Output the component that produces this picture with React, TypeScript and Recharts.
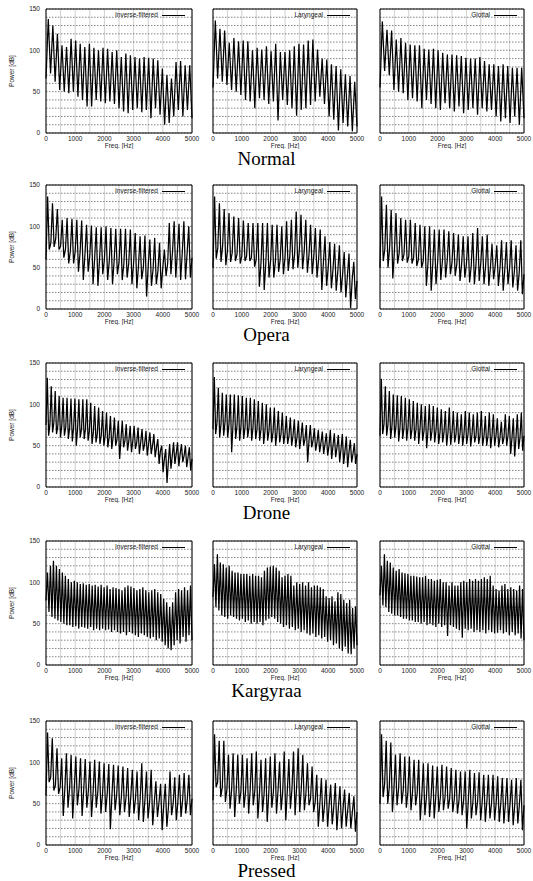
import React from 'react';
import {
  LineChart,
  Line,
  CartesianGrid,
  XAxis,
  YAxis,
  ReferenceArea,
} from 'recharts';

// spectra are stored as: level at 0 Hz, then per harmonic a peak, the dip after it
// and (for the noisier voices) the floor level before the next harmonic
const rowTitles = ['Normal', 'Opera', 'Drone', 'Kargyraa', 'Pressed'];
const panelNames = ['Inverse-filtered', 'Laryngeal', 'Glottal'];

const xTicks = [0, 500, 1000, 1500, 2000, 2500, 3000, 3500, 4000, 4500, 5000];
const yTicks = [0, 10, 20, 30, 40, 50, 60, 70, 80, 90, 100, 110, 120, 130, 140, 150];

// Normal
const normalStarts = [66, 55, 55];
const normalInvPeaks = [138, 130, 120, 106, 104, 114, 112, 108, 104, 108, 103, 100, 103, 102, 98, 100, 92, 96, 94, 92, 90, 92, 91, 90, 88, 78, 70, 66, 86, 87, 82, 82];
const normalInvDips = [72, 62, 52, 50, 48, 50, 44, 40, 32, 32, 40, 38, 36, 38, 35, 30, 26, 24, 28, 30, 25, 28, 18, 30, 22, 10, 12, 20, 28, 20, 28, 18];
const normalLarPeaks = [136, 126, 124, 109, 115, 111, 112, 111, 100, 103, 101, 105, 99, 108, 98, 98, 100, 105, 108, 107, 112, 113, 101, 90, 89, 83, 81, 77, 71, 69, 62];
const normalLarDips = [66, 62, 58, 52, 50, 46, 40, 38, 30, 42, 40, 35, 38, 15, 40, 34, 30, 21, 28, 30, 34, 38, 44, 35, 20, 16, 3, 12, 8, 2, 8];
const normalGloPeaks = [135, 125, 124, 113, 115, 109, 107, 106, 106, 102, 101, 102, 100, 97, 95, 95, 94, 93, 91, 90, 90, 92, 87, 83, 83, 81, 83, 81, 79, 79, 79];
const normalGloDips = [75, 70, 52, 50, 48, 40, 42, 38, 30, 40, 35, 30, 28, 36, 30, 26, 32, 24, 28, 30, 22, 30, 26, 28, 20, 14, 18, 12, 20, 10, 18];

// Opera
const operaStarts = [60, 50, 50];
const operaInvPeaks = [136, 128, 121, 108, 110, 109, 108, 107, 102, 101, 99, 99, 100, 98, 97, 97, 97, 96, 92, 88, 89, 84, 86, 80, 72, 104, 106, 103, 106, 100];
const operaInvDips = [72, 75, 72, 62, 55, 55, 45, 35, 45, 30, 28, 42, 35, 30, 42, 35, 38, 30, 25, 36, 15, 28, 30, 25, 40, 42, 38, 35, 36, 38];
const operaInvFloors = [80, 85, 76, 72, 70, 70, 68, 66, 65, 62, 60, 60, 58, 58, 56, 55, 55, 56, 52, 50, 52, 48, 46, 50, 55, 70, 70, 68, 68, 62];
const operaLarPeaks = [136, 128, 121, 116, 112, 110, 107, 104, 104, 104, 104, 104, 102, 102, 100, 106, 108, 118, 114, 108, 102, 98, 96, 88, 81, 79, 77, 69, 67, 57];
const operaLarDips = [61, 57, 53, 57, 58, 55, 58, 58, 51, 27, 23, 38, 38, 45, 42, 46, 48, 50, 48, 44, 42, 38, 23, 28, 25, 22, 20, 14, 1, 12];
const operaLarFloors = [74, 76, 70, 68, 66, 64, 64, 62, 60, 56, 55, 58, 58, 60, 62, 64, 66, 72, 70, 66, 64, 60, 56, 50, 48, 45, 42, 40, 36, 34];
const operaGloPeaks = [136, 126, 120, 116, 110, 108, 108, 104, 102, 100, 100, 96, 96, 96, 94, 92, 90, 88, 88, 92, 98, 88, 90, 79, 77, 83, 81, 83, 77, 83];
const operaGloDips = [58, 50, 37, 55, 58, 56, 55, 52, 50, 28, 22, 30, 35, 38, 42, 40, 34, 38, 32, 30, 34, 30, 28, 36, 28, 22, 30, 26, 22, 18];
const operaGloFloors = [72, 74, 70, 68, 66, 64, 62, 60, 58, 56, 55, 56, 58, 58, 56, 54, 54, 54, 52, 54, 56, 52, 50, 52, 50, 48, 50, 46, 44, 42];

// Drone
const droneStarts = [75, 70, 62];
const droneInvPeaks = [132, 122, 116, 110, 108, 108, 107, 107, 106, 106, 106, 102, 98, 96, 92, 90, 86, 84, 80, 80, 76, 74, 74, 72, 70, 68, 66, 64, 58, 50, 46, 52, 54, 54, 52, 50, 48];
const droneInvDips = [62, 66, 64, 60, 62, 58, 55, 50, 60, 58, 56, 52, 54, 52, 50, 48, 46, 50, 34, 48, 44, 42, 46, 40, 44, 38, 40, 36, 28, 18, 5, 22, 28, 25, 30, 24, 20];
const droneInvFloors = [76, 78, 74, 74, 72, 72, 72, 70, 70, 70, 68, 66, 64, 62, 62, 60, 60, 58, 58, 56, 56, 56, 54, 54, 52, 52, 50, 48, 44, 34, 30, 38, 40, 40, 38, 36, 34];
const droneLarPeaks = [133, 120, 114, 112, 112, 112, 111, 110, 108, 108, 106, 104, 102, 100, 96, 96, 92, 90, 86, 84, 82, 80, 78, 75, 75, 71, 69, 67, 65, 69, 65, 63, 64, 61, 57, 53];
const droneLarDips = [64, 60, 62, 60, 42, 58, 56, 58, 60, 56, 58, 56, 52, 56, 54, 50, 54, 52, 52, 50, 48, 46, 50, 30, 48, 44, 42, 40, 38, 34, 36, 30, 28, 24, 30, 28];
const droneLarFloors = [78, 76, 78, 76, 76, 74, 74, 72, 72, 72, 70, 70, 68, 68, 66, 66, 64, 64, 62, 62, 60, 60, 58, 56, 56, 54, 54, 52, 50, 50, 48, 46, 44, 42, 40, 40];
const droneGloPeaks = [131, 122, 116, 112, 111, 110, 108, 106, 104, 102, 100, 98, 100, 98, 96, 94, 92, 96, 92, 90, 88, 92, 90, 88, 90, 92, 86, 90, 88, 83, 79, 88, 86, 83, 88, 90];
const droneGloDips = [64, 62, 58, 60, 55, 58, 56, 58, 56, 52, 56, 47, 56, 54, 52, 54, 50, 51, 54, 52, 50, 52, 49, 54, 52, 50, 50, 47, 50, 48, 52, 50, 40, 37, 46, 44];
const droneGloFloors = [76, 76, 74, 74, 72, 72, 72, 70, 70, 70, 68, 68, 68, 68, 66, 66, 66, 66, 64, 64, 64, 64, 64, 62, 62, 62, 62, 62, 62, 60, 60, 62, 60, 60, 60, 62];

// Kargyraa
const kargyraaStarts = [78, 82, 84];
const kargyraaInvPeaks = [112, 120, 126, 120, 116, 112, 108, 104, 100, 102, 100, 98, 99, 97, 98, 96, 97, 95, 97, 94, 96, 92, 94, 93, 92, 90, 94, 96, 95, 93, 90, 92, 94, 90, 88, 90, 92, 88, 86, 80, 76, 70, 76, 88, 92, 90, 94, 90, 96];
const kargyraaInvDips = [64, 58, 56, 54, 52, 50, 48, 48, 46, 47, 44, 46, 45, 44, 46, 42, 44, 42, 44, 42, 43, 40, 42, 40, 38, 40, 36, 40, 38, 36, 34, 38, 36, 34, 32, 34, 30, 32, 28, 24, 20, 18, 24, 30, 26, 34, 28, 36, 30];
const kargyraaLarPeaks = [122, 134, 124, 122, 118, 120, 114, 112, 112, 110, 110, 110, 108, 110, 108, 108, 106, 114, 118, 119, 120, 118, 114, 106, 108, 110, 108, 96, 100, 98, 100, 96, 100, 94, 96, 96, 94, 92, 83, 81, 83, 77, 88, 86, 79, 75, 79, 69, 71];
const kargyraaLarDips = [70, 66, 60, 58, 56, 60, 58, 56, 54, 56, 52, 54, 50, 52, 50, 52, 48, 54, 56, 58, 56, 52, 50, 46, 48, 44, 46, 42, 44, 40, 42, 38, 36, 38, 34, 36, 32, 34, 28, 30, 24, 26, 20, 17, 22, 14, 13, 20, 24];
const kargyraaGloPeaks = [120, 134, 126, 124, 118, 114, 116, 112, 111, 110, 108, 108, 107, 106, 106, 108, 104, 104, 102, 103, 104, 100, 100, 96, 100, 96, 96, 100, 102, 100, 104, 102, 104, 102, 104, 106, 104, 108, 96, 92, 90, 96, 98, 92, 94, 92, 90, 96, 92];
const kargyraaGloDips = [72, 70, 64, 62, 60, 60, 58, 56, 56, 54, 54, 52, 52, 50, 52, 48, 50, 48, 46, 50, 46, 48, 35, 48, 46, 44, 42, 33, 44, 42, 44, 40, 42, 40, 42, 38, 42, 40, 38, 39, 42, 38, 40, 36, 40, 36, 38, 32, 30];

// Pressed
const pressedStarts = [60, 54, 50];
const pressedInvPeaks = [136, 129, 117, 105, 111, 109, 107, 105, 104, 101, 103, 101, 99, 98, 97, 96, 95, 93, 91, 89, 99, 89, 91, 77, 74, 74, 89, 82, 85, 87, 85];
const pressedInvDips = [76, 66, 62, 35, 45, 32, 48, 35, 45, 34, 45, 38, 40, 19, 42, 36, 40, 34, 38, 30, 28, 32, 24, 34, 18, 22, 36, 30, 34, 38, 36];
const pressedInvFloors = [82, 72, 70, 68, 68, 68, 68, 66, 66, 64, 64, 62, 62, 60, 60, 58, 58, 58, 56, 56, 54, 52, 52, 52, 48, 46, 50, 52, 54, 55, 56];
const pressedLarPeaks = [134, 126, 126, 109, 111, 109, 109, 105, 111, 113, 103, 105, 107, 111, 101, 113, 104, 113, 117, 109, 99, 95, 85, 81, 79, 73, 75, 71, 67, 63, 59];
const pressedLarDips = [70, 58, 52, 44, 34, 50, 45, 38, 48, 32, 40, 28, 45, 38, 42, 30, 44, 36, 40, 42, 48, 40, 22, 28, 22, 25, 18, 20, 22, 20, 16];
const pressedLarFloors = [76, 70, 68, 66, 66, 64, 64, 66, 66, 62, 62, 62, 64, 66, 64, 66, 68, 70, 68, 62, 56, 52, 50, 48, 48, 46, 46, 44, 42, 40, 40];
const pressedGloPeaks = [134, 126, 124, 109, 111, 107, 107, 103, 103, 99, 99, 96, 95, 97, 95, 93, 91, 89, 89, 91, 87, 88, 85, 85, 85, 83, 81, 81, 79, 81, 79];
const pressedGloDips = [58, 50, 40, 48, 50, 45, 42, 48, 30, 36, 34, 32, 40, 42, 44, 40, 38, 36, 20, 32, 36, 30, 28, 32, 30, 28, 26, 28, 24, 26, 18];
const pressedGloFloors = [74, 70, 68, 68, 66, 64, 64, 62, 60, 58, 58, 58, 58, 58, 56, 56, 54, 54, 52, 52, 52, 52, 52, 50, 50, 50, 50, 50, 48, 48, 48];

interface Spectrum {
  start: number;
  peaks: number[];
  dips: number[];
  floors?: number[];
}

const rows: Spectrum[][] = [
  [
    { start: normalStarts[0], peaks: normalInvPeaks, dips: normalInvDips },
    { start: normalStarts[1], peaks: normalLarPeaks, dips: normalLarDips },
    { start: normalStarts[2], peaks: normalGloPeaks, dips: normalGloDips },
  ],
  [
    { start: operaStarts[0], peaks: operaInvPeaks, dips: operaInvDips, floors: operaInvFloors },
    { start: operaStarts[1], peaks: operaLarPeaks, dips: operaLarDips, floors: operaLarFloors },
    { start: operaStarts[2], peaks: operaGloPeaks, dips: operaGloDips, floors: operaGloFloors },
  ],
  [
    { start: droneStarts[0], peaks: droneInvPeaks, dips: droneInvDips, floors: droneInvFloors },
    { start: droneStarts[1], peaks: droneLarPeaks, dips: droneLarDips, floors: droneLarFloors },
    { start: droneStarts[2], peaks: droneGloPeaks, dips: droneGloDips, floors: droneGloFloors },
  ],
  [
    { start: kargyraaStarts[0], peaks: kargyraaInvPeaks, dips: kargyraaInvDips },
    { start: kargyraaStarts[1], peaks: kargyraaLarPeaks, dips: kargyraaLarDips },
    { start: kargyraaStarts[2], peaks: kargyraaGloPeaks, dips: kargyraaGloDips },
  ],
  [
    { start: pressedStarts[0], peaks: pressedInvPeaks, dips: pressedInvDips, floors: pressedInvFloors },
    { start: pressedStarts[1], peaks: pressedLarPeaks, dips: pressedLarDips, floors: pressedLarFloors },
    { start: pressedStarts[2], peaks: pressedGloPeaks, dips: pressedGloDips, floors: pressedGloFloors },
  ],
];

// spectrum bins are evenly spaced over 0..5000 Hz
function toTable(s: Spectrum) {
  const levels = [s.start];
  s.peaks.forEach((p, i) => {
    levels.push(p, s.dips[i]);
    if (s.floors) levels.push(s.floors[i]);
  });
  const step = 5000 / (levels.length - 1);
  return levels.map((v, i) => ({ f: i * step, v }));
}

const colLeft = [46, 213, 380];
const colWidth = [146, 144, 144];
const rowTop = [9, 185, 363, 541, 721];
const plotH = 124;
const font = '"Liberation Sans", Arial, sans-serif';
const tickStyle = { fontSize: 6.5, fill: '#222', fontFamily: font };

function Panel({ spec, row, col }: { spec: Spectrum; row: number; col: number }) {
  const left = col === 0 ? 46 : 4;
  const width = colWidth[col] + left + 8;
  const top = 4;
  const height = top + plotH + 15 + 1;
  const plotRight = colLeft[col] + colWidth[col];
  return (
    <>
      <div style={{ position: 'absolute', left: colLeft[col] - left, top: rowTop[row] - top }}>
        <LineChart
          width={width}
          height={height}
          data={toTable(spec)}
          margin={{ top, right: 8, left: col === 0 ? 0 : left, bottom: 1 }}
        >
          <CartesianGrid horizontal={false} stroke="#c4c4c4" strokeWidth={0.8} />
          <CartesianGrid vertical={false} stroke="#666" strokeDasharray="1.5 1.5" strokeWidth={0.8} />
          <XAxis
            dataKey="f"
            type="number"
            domain={[0, 5000]}
            ticks={xTicks}
            interval={0}
            tickFormatter={(v: number) => (v % 1000 === 0 ? String(v) : '')}
            tick={tickStyle}
            tickLine={false}
            axisLine={false}
            tickSize={0}
            tickMargin={3}
            height={15}
            label={{ value: 'Freq. [Hz]', position: 'insideBottom', offset: 0, ...tickStyle }}
          />
          <YAxis
            type="number"
            domain={[0, 150]}
            allowDataOverflow
            ticks={yTicks}
            interval={0}
            width={col === 0 ? 46 : 0}
            tick={tickStyle}
            tickFormatter={(v: number) => (col === 0 && v % 50 === 0 ? String(v) : '')}
            tickLine={false}
            axisLine={false}
            tickSize={0}
            tickMargin={6}
            label={
              col === 0
                ? { value: 'Power [dB]', angle: -90, position: 'insideLeft', offset: 12, ...tickStyle, style: { textAnchor: 'middle' } }
                : undefined
            }
          />
          <Line
            type="linear"
            dataKey="v"
            stroke="#000"
            strokeWidth={1.25}
            dot={false}
            isAnimationActive={false}
          />
          <ReferenceArea x1={0} x2={5000} y1={0} y2={150} fill="none" stroke="#000" strokeWidth={1} />
        </LineChart>
      </div>
      <div
        style={{
          position: 'absolute',
          top: rowTop[row] + 2,
          right: 533 - (plotRight - 7),
          display: 'flex',
          alignItems: 'center',
          fontFamily: font,
          fontSize: 6.5,
          lineHeight: '8px',
          color: '#222',
          whiteSpace: 'nowrap',
        }}
      >
        <span>{panelNames[col]}</span>
        <span style={{ display: 'inline-block', width: 23, borderTop: '1px solid #000', marginLeft: 4 }} />
      </div>
    </>
  );
}

export default function App() {
  return (
    <div style={{ position: 'absolute', left: 0, top: 0, width: 533, height: 881, background: '#fff' }}>
      {rows.map((panels, r) => (
        <React.Fragment key={rowTitles[r]}>
          {panels.map((spec, c) => (
            <Panel key={c} spec={spec} row={r} col={c} />
          ))}
          <div
            style={{
              position: 'absolute',
              left: 0,
              width: 533,
              top: rowTop[r] + plotH + 18,
              textAlign: 'center',
              fontFamily: '"Liberation Serif", "Times New Roman", serif',
              fontSize: 19,
              lineHeight: '16px',
              color: '#000',
            }}
          >
            {rowTitles[r]}
          </div>
        </React.Fragment>
      ))}
    </div>
  );
}
